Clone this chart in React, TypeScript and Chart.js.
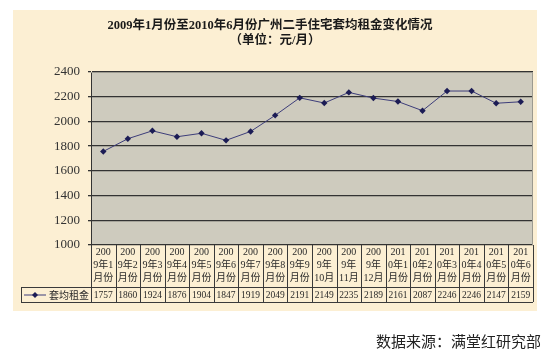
import React, { useEffect, useRef } from "react";
import { Chart, registerables } from "chart.js";

Chart.register(...registerables);

const titleLines = ["2009年1月份至2010年6月份广州二手住宅套均租金变化情况", "（单位：元/月）"];
const seriesName = "套均租金";
const sourceText = "数据来源：满堂红研究部";

const categoryLines: string[][] = [
  ["200", "9年1", "月份"],
  ["200", "9年2", "月份"],
  ["200", "9年3", "月份"],
  ["200", "9年4", "月份"],
  ["200", "9年5", "月份"],
  ["200", "9年6", "月份"],
  ["200", "9年7", "月份"],
  ["200", "9年8", "月份"],
  ["200", "9年9", "月份"],
  ["200", "9年", "10月"],
  ["200", "9年", "11月"],
  ["200", "9年", "12月"],
  ["201", "0年1", "月份"],
  ["201", "0年2", "月份"],
  ["201", "0年3", "月份"],
  ["201", "0年4", "月份"],
  ["201", "0年5", "月份"],
  ["201", "0年6", "月份"],
];

const rentValues = [1757, 1860, 1924, 1876, 1904, 1847, 1919, 2049, 2191, 2149, 2235, 2189, 2161, 2087, 2246, 2246, 2147, 2159];

const yMin = 1000;
const yMax = 2400;
const yStep = 200;

const SERIF_CJK = '"Liberation Serif", "Noto Sans CJK SC", serif';

const decorPlugin = {
  id: "decor",
  beforeDraw(chart: any) {
    const ctx = chart.ctx;
    const { left, right, top, bottom } = chart.chartArea;
    ctx.save();
    ctx.fillStyle = "#ffffff";
    ctx.fillRect(0, 0, chart.width, chart.height);
    ctx.fillStyle = "#fcefd3";
    ctx.fillRect(13, 10, 524, 301);
    ctx.fillStyle = "#cecbbe";
    ctx.fillRect(left, top, right - left, bottom - top);
    ctx.restore();
  },
  afterDraw(chart: any) {
    const ctx = chart.ctx;
    const xs = chart.scales.x;
    const { left, right, top, bottom } = chart.chartArea;
    const n = categoryLines.length;
    const colW = (right - left) / n;
    const headTop = bottom;
    const dataTop = 287;
    const dataBottom = 302;
    ctx.save();
    ctx.strokeStyle = "#9c9a90";
    ctx.lineWidth = 1;
    ctx.beginPath();
    ctx.moveTo(left, top + 0.5);
    ctx.lineTo(right, top + 0.5);
    ctx.moveTo(right - 0.5, top);
    ctx.lineTo(right - 0.5, bottom);
    ctx.stroke();

    ctx.strokeStyle = "#3a3a3a";
    ctx.lineWidth = 1;
    ctx.beginPath();
    for (let i = 0; i <= n; i++) {
      const cx = i < n ? xs.getPixelForValue(i) - colW / 2 : xs.getPixelForValue(n - 1) + colW / 2;
      const px = Math.round(cx) + 0.5;
      ctx.moveTo(px, headTop);
      ctx.lineTo(px, dataBottom);
    }
    ctx.moveTo(21, dataTop + 0.5);
    ctx.lineTo(right, dataTop + 0.5);
    ctx.moveTo(21, dataBottom + 0.5);
    ctx.lineTo(right, dataBottom + 0.5);
    ctx.moveTo(21.5, dataTop);
    ctx.lineTo(21.5, dataBottom + 0.5);
    ctx.stroke();

    ctx.fillStyle = "#2a2a2a";
    ctx.textAlign = "center";
    ctx.textBaseline = "middle";
    ctx.font = `10px ${SERIF_CJK}`;
    categoryLines.forEach((lines, i) => {
      const cx = xs.getPixelForValue(i);
      lines.forEach((t, j) => {
        ctx.fillText(t, cx, 252 + j * 13);
      });
    });
    ctx.font = `9.5px "Liberation Serif", serif`;
    rentValues.forEach((v, i) => {
      const cx = xs.getPixelForValue(i);
      ctx.fillText(String(v), cx, 295.5);
    });

    ctx.strokeStyle = "#3d3d7a";
    ctx.lineWidth = 1;
    ctx.beginPath();
    ctx.moveTo(24, 295);
    ctx.lineTo(46, 295);
    ctx.stroke();
    ctx.fillStyle = "#1c1c55";
    ctx.beginPath();
    ctx.moveTo(35, 292);
    ctx.lineTo(38, 295);
    ctx.lineTo(35, 298);
    ctx.lineTo(32, 295);
    ctx.closePath();
    ctx.fill();
    ctx.fillStyle = "#2a2a2a";
    ctx.textAlign = "left";
    ctx.font = `10px "Noto Sans CJK SC", sans-serif`;
    ctx.fillText(seriesName, 49, 295);

    ctx.fillStyle = "#1a1a1a";
    ctx.textAlign = "center";
    ctx.font = `bold 12.5px ${SERIF_CJK}`;
    ctx.fillText(titleLines[0], 270, 26);
    ctx.fillText(titleLines[1], 275, 41);

    ctx.fillStyle = "#222222";
    ctx.textAlign = "left";
    ctx.font = `15px "Noto Sans CJK SC", sans-serif`;
    ctx.fillText(sourceText, 376, 341);
    ctx.restore();
  },
};

export default function App() {
  const canvasRef = useRef<HTMLCanvasElement | null>(null);

  useEffect(() => {
    const canvas = canvasRef.current;
    if (!canvas) return;
    const chart = new Chart(canvas, {
      type: "line",
      data: {
        labels: categoryLines.map((l) => l.join("")),
        datasets: [
          {
            label: seriesName,
            data: rentValues,
            borderColor: "#3d3d7a",
            borderWidth: 1,
            pointStyle: "rectRot",
            pointRadius: 3.2,
            pointBackgroundColor: "#1c1c55",
            pointBorderColor: "#1c1c55",
            pointBorderWidth: 0,
            tension: 0,
          },
        ],
      },
      options: {
        responsive: false,
        animation: false,
        devicePixelRatio: 1,
        layout: { padding: { left: 13, top: 72, right: 17, bottom: 118 } },
        plugins: {
          legend: { display: false },
          title: { display: false },
          tooltip: { enabled: false },
        },
        scales: {
          x: {
            type: "category",
            offset: true,
            display: false,
          },
          y: {
            min: yMin,
            max: yMax,
            afterFit: (scale: any) => {
              scale.width = 78;
            },
            ticks: {
              stepSize: yStep,
              padding: 8,
              color: "#333333",
              font: { family: '"Liberation Serif", serif', size: 13 },
              callback: (v: any) => String(v),
            },
            grid: {
              color: "#333333",
              lineWidth: 1.3,
              drawTicks: true,
              tickLength: 3,
            },
            border: { display: true, color: "#333333", width: 1 },
          },
        },
      },
      plugins: [decorPlugin],
    });
    return () => chart.destroy();
  }, []);

  return (
    <div style={{ position: "absolute", left: 0, top: 0, width: 550, height: 363 }}>
      <canvas ref={canvasRef} width={550} height={363} style={{ width: 550, height: 363, display: "block" }} />
    </div>
  );
}
